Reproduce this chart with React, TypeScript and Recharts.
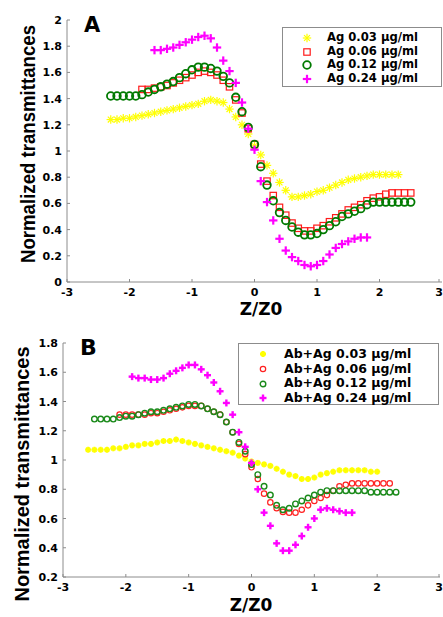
import React from "react";
import { ScatterChart, Scatter, XAxis, YAxis, Legend } from "recharts";

type Pt = [number, number];

// axis ticks
const zTicks = [-3, -2, -1, 0, 1, 2, 3];
const tTicksA = [0, 0.2, 0.4, 0.6, 0.8, 1, 1.2, 1.4, 1.6, 1.8, 2];
const tTicksB = [0.2, 0.4, 0.6, 0.8, 1, 1.2, 1.4, 1.6, 1.8];

const namesA = ["Ag 0.03 μg/ml", "Ag 0.06 μg/ml", "Ag 0.12 μg/ml", "Ag 0.24 μg/ml"];
const namesB = ["Ab+Ag 0.03 μg/ml", "Ab+Ag 0.06 μg/ml", "Ab+Ag 0.12 μg/ml", "Ab+Ag 0.24 μg/ml"];

// panel A: [Z/Z0, normalized transmittance]
const ag003: Pt[] = [
  [-2.3, 1.24], [-2.2, 1.24], [-2.1, 1.25], [-2.0, 1.25], [-1.9, 1.26], [-1.8, 1.27], [-1.7, 1.28],
  [-1.6, 1.29], [-1.5, 1.3], [-1.4, 1.31], [-1.3, 1.32], [-1.2, 1.33], [-1.1, 1.34], [-1.0, 1.35],
  [-0.9, 1.36], [-0.8, 1.38], [-0.7, 1.39], [-0.6, 1.38], [-0.5, 1.37], [-0.4, 1.32], [-0.3, 1.26],
  [-0.2, 1.2], [-0.1, 1.13], [0, 1.04], [0.1, 0.97], [0.2, 0.89], [0.3, 0.83], [0.4, 0.76],
  [0.5, 0.7], [0.6, 0.65], [0.7, 0.65], [0.8, 0.66], [0.9, 0.67], [1.0, 0.69], [1.1, 0.7],
  [1.2, 0.72], [1.3, 0.74], [1.4, 0.76], [1.5, 0.78], [1.6, 0.79], [1.7, 0.8], [1.8, 0.81],
  [1.9, 0.82], [2.0, 0.82], [2.1, 0.82], [2.2, 0.82], [2.3, 0.82],
];
const ag006: Pt[] = [
  [-1.8, 1.47], [-1.7, 1.47], [-1.6, 1.48], [-1.5, 1.49], [-1.4, 1.5], [-1.3, 1.52], [-1.2, 1.54],
  [-1.1, 1.56], [-1.0, 1.58], [-0.9, 1.6], [-0.8, 1.61], [-0.7, 1.6], [-0.6, 1.58], [-0.5, 1.54],
  [-0.4, 1.49], [-0.3, 1.39], [-0.2, 1.29], [-0.1, 1.17], [0, 1.05], [0.1, 0.9], [0.2, 0.77],
  [0.3, 0.66], [0.4, 0.57], [0.5, 0.51], [0.6, 0.45], [0.7, 0.41], [0.8, 0.39], [0.9, 0.39],
  [1.0, 0.41], [1.1, 0.43], [1.2, 0.46], [1.3, 0.49], [1.4, 0.52], [1.5, 0.55], [1.6, 0.57],
  [1.7, 0.59], [1.8, 0.62], [1.9, 0.64], [2.0, 0.65], [2.1, 0.67], [2.2, 0.68], [2.3, 0.68],
  [2.4, 0.68], [2.5, 0.68],
];
const ag012: Pt[] = [
  [-2.3, 1.42], [-2.2, 1.42], [-2.1, 1.42], [-2.0, 1.42], [-1.9, 1.42], [-1.8, 1.43], [-1.7, 1.45],
  [-1.6, 1.47], [-1.5, 1.49], [-1.4, 1.51], [-1.3, 1.53], [-1.2, 1.56], [-1.1, 1.59], [-1.0, 1.62],
  [-0.9, 1.64], [-0.8, 1.64], [-0.7, 1.63], [-0.6, 1.61], [-0.5, 1.57], [-0.4, 1.52], [-0.3, 1.41],
  [-0.2, 1.3], [-0.1, 1.18], [0, 1.05], [0.1, 0.88], [0.2, 0.74], [0.3, 0.62], [0.4, 0.53],
  [0.5, 0.47], [0.6, 0.42], [0.7, 0.38], [0.8, 0.36], [0.9, 0.36], [1.0, 0.37], [1.1, 0.4],
  [1.2, 0.43], [1.3, 0.46], [1.4, 0.5], [1.5, 0.52], [1.6, 0.54], [1.7, 0.56], [1.8, 0.59],
  [1.9, 0.61], [2.0, 0.61], [2.1, 0.61], [2.2, 0.61], [2.3, 0.61], [2.4, 0.61], [2.5, 0.61],
];
const ag024: Pt[] = [
  [-1.6, 1.77], [-1.5, 1.77], [-1.4, 1.78], [-1.3, 1.79], [-1.2, 1.81], [-1.1, 1.83], [-1.0, 1.85],
  [-0.9, 1.87], [-0.8, 1.88], [-0.7, 1.86], [-0.6, 1.79], [-0.5, 1.69], [-0.4, 1.61], [-0.3, 1.52],
  [-0.2, 1.37], [-0.1, 1.17], [0, 1.01], [0.1, 0.77], [0.2, 0.61], [0.3, 0.47], [0.4, 0.33],
  [0.5, 0.24], [0.6, 0.19], [0.7, 0.16], [0.8, 0.13], [0.9, 0.12], [1.0, 0.13], [1.1, 0.16],
  [1.2, 0.21], [1.3, 0.26], [1.4, 0.29], [1.5, 0.31], [1.6, 0.33], [1.7, 0.34], [1.8, 0.34],
];

// panel B
const abag003: Pt[] = [
  [-2.6, 1.07], [-2.5, 1.07], [-2.4, 1.07], [-2.3, 1.07], [-2.2, 1.08], [-2.1, 1.08], [-2.0, 1.09],
  [-1.9, 1.1], [-1.8, 1.1], [-1.7, 1.11], [-1.6, 1.11], [-1.5, 1.12], [-1.4, 1.13], [-1.3, 1.13],
  [-1.2, 1.14], [-1.1, 1.13], [-1.0, 1.12], [-0.9, 1.11], [-0.8, 1.1], [-0.7, 1.09], [-0.6, 1.08],
  [-0.5, 1.07], [-0.4, 1.06], [-0.3, 1.05], [-0.2, 1.03], [-0.1, 1.01], [0, 0.99], [0.1, 0.98],
  [0.2, 0.97], [0.3, 0.96], [0.4, 0.94], [0.5, 0.92], [0.6, 0.9], [0.7, 0.89], [0.8, 0.87],
  [0.9, 0.87], [1.0, 0.88], [1.1, 0.9], [1.2, 0.91], [1.3, 0.92], [1.4, 0.93], [1.5, 0.93],
  [1.6, 0.93], [1.7, 0.93], [1.8, 0.93], [1.9, 0.92], [2.0, 0.92],
];
const abag006: Pt[] = [
  [-2.1, 1.31], [-2.0, 1.31], [-1.9, 1.31], [-1.8, 1.31], [-1.7, 1.31], [-1.6, 1.32], [-1.5, 1.32],
  [-1.4, 1.33], [-1.3, 1.34], [-1.2, 1.35], [-1.1, 1.36], [-1.0, 1.37], [-0.9, 1.37], [-0.8, 1.37],
  [-0.7, 1.35], [-0.6, 1.33], [-0.5, 1.31], [-0.4, 1.26], [-0.3, 1.19], [-0.2, 1.11], [-0.1, 1.04],
  [0, 0.95], [0.1, 0.87], [0.2, 0.77], [0.3, 0.71], [0.4, 0.67], [0.5, 0.645], [0.6, 0.64],
  [0.7, 0.64], [0.8, 0.66], [0.9, 0.69], [1.0, 0.72], [1.1, 0.74], [1.2, 0.76], [1.3, 0.79],
  [1.4, 0.82], [1.5, 0.83], [1.6, 0.84], [1.7, 0.84], [1.8, 0.84], [1.9, 0.84], [2.0, 0.84],
  [2.1, 0.84], [2.2, 0.84],
];
const abag012: Pt[] = [
  [-2.5, 1.28], [-2.4, 1.28], [-2.3, 1.28], [-2.2, 1.28], [-2.1, 1.29], [-2.0, 1.3], [-1.9, 1.3],
  [-1.8, 1.31], [-1.7, 1.32], [-1.6, 1.33], [-1.5, 1.33], [-1.4, 1.34], [-1.3, 1.35], [-1.2, 1.36],
  [-1.1, 1.37], [-1.0, 1.38], [-0.9, 1.38], [-0.8, 1.37], [-0.7, 1.35], [-0.6, 1.33], [-0.5, 1.31],
  [-0.4, 1.26], [-0.3, 1.19], [-0.2, 1.12], [-0.1, 1.06], [0, 0.97], [0.1, 0.9], [0.2, 0.82],
  [0.3, 0.76], [0.4, 0.69], [0.5, 0.66], [0.6, 0.67], [0.7, 0.7], [0.8, 0.72], [0.9, 0.74],
  [1.0, 0.76], [1.1, 0.78], [1.2, 0.79], [1.3, 0.79], [1.4, 0.79], [1.5, 0.79], [1.6, 0.79],
  [1.7, 0.79], [1.8, 0.79], [1.9, 0.78], [2.0, 0.78], [2.1, 0.78], [2.2, 0.78], [2.3, 0.78],
];
const abag024: Pt[] = [
  [-1.9, 1.57], [-1.8, 1.56], [-1.7, 1.56], [-1.6, 1.55], [-1.5, 1.55], [-1.4, 1.56], [-1.3, 1.59],
  [-1.2, 1.61], [-1.1, 1.63], [-1.0, 1.65], [-0.9, 1.65], [-0.8, 1.62], [-0.7, 1.58], [-0.6, 1.53],
  [-0.5, 1.47], [-0.4, 1.39], [-0.3, 1.31], [-0.2, 1.19], [-0.1, 1.09], [0, 0.98], [0.1, 0.8],
  [0.2, 0.64], [0.3, 0.55], [0.4, 0.43], [0.5, 0.38], [0.6, 0.38], [0.7, 0.42], [0.8, 0.48],
  [0.9, 0.54], [1.0, 0.6], [1.1, 0.66], [1.2, 0.67], [1.3, 0.66], [1.4, 0.65], [1.5, 0.64],
  [1.6, 0.64],
];

const FONT = "'DejaVu Sans', sans-serif";
const NARROW = "'Liberation Sans', Arial, sans-serif";
const AXIS = "#8c8c8c";

type Kind = "star" | "square" | "circle" | "plus";

interface Series {
  name: string;
  data: Pt[];
  kind: Kind;
  color: string;
  size: number;
  sw: number;
}

const seriesA: Series[] = [
  { name: namesA[0], data: ag003, kind: "star", color: "#ffff00", size: 4.2, sw: 1.2 },
  { name: namesA[1], data: ag006, kind: "square", color: "#ff1a1a", size: 3.2, sw: 1.2 },
  { name: namesA[2], data: ag012, kind: "circle", color: "#007a00", size: 3.8, sw: 1.8 },
  { name: namesA[3], data: ag024, kind: "plus", color: "#ff00ff", size: 4.2, sw: 2.2 },
];

const seriesB: Series[] = [
  { name: namesB[0], data: abag003, kind: "star", color: "#ffff00", size: 3, sw: 2 },
  { name: namesB[1], data: abag006, kind: "circle", color: "#ff2020", size: 2.7, sw: 1.2 },
  { name: namesB[2], data: abag012, kind: "circle", color: "#1a8a1a", size: 2.8, sw: 1.4 },
  { name: namesB[3], data: abag024, kind: "plus", color: "#ff00ff", size: 3.5, sw: 2.4 },
];

function Marker({ kind, cx, cy, size, color, sw }: { kind: Kind; cx: number; cy: number; size: number; color: string; sw: number }) {
  const s = size;
  if (kind === "square") {
    return <rect x={cx - s} y={cy - s} width={2 * s} height={2 * s} fill="none" stroke={color} strokeWidth={sw} />;
  }
  if (kind === "circle") {
    return <circle cx={cx} cy={cy} r={s} fill="none" stroke={color} strokeWidth={sw} />;
  }
  if (kind === "plus") {
    return (
      <g stroke={color} strokeWidth={sw}>
        <line x1={cx - s} x2={cx + s} y1={cy} y2={cy} />
        <line x1={cx} x2={cx} y1={cy - s} y2={cy + s} />
      </g>
    );
  }
  const d = s * 0.7;
  return (
    <g stroke={color} strokeWidth={sw}>
      <line x1={cx - s} x2={cx + s} y1={cy} y2={cy} />
      <line x1={cx} x2={cx} y1={cy - s} y2={cy + s} />
      <line x1={cx - d} x2={cx + d} y1={cy - d} y2={cy + d} />
      <line x1={cx - d} x2={cx + d} y1={cy + d} y2={cy - d} />
    </g>
  );
}

function XTick({ x, y, payload }: any) {
  return (
    <g>
      <line x1={x} x2={x} y1={y - 4} y2={y - 7} stroke={AXIS} />
      <text x={x} y={y} dy={10} textAnchor="middle" fontFamily={FONT} fontWeight="bold" fontSize={11} fill="#000">
        {payload.value}
      </text>
    </g>
  );
}

function YTick({ x, y, payload }: any) {
  return (
    <g>
      <line x1={x + 5} x2={x + 8} y1={y} y2={y} stroke={AXIS} />
      <text x={x} y={y} dy={4} textAnchor="end" fontFamily={FONT} fontWeight="bold" fontSize={11} fill="#000">
        {payload.value}
      </text>
    </g>
  );
}

interface LegendLayout {
  width: number;
  height: number;
  padTop: number;
  rowH: number;
  markX: number;
  textX: number;
  fontSize: number;
}

function LegendBox({ series, lay }: { series: Series[]; lay: LegendLayout }) {
  return (
    <div
      style={{
        boxSizing: "border-box",
        width: lay.width,
        height: lay.height,
        border: "1px solid #8c8c8c",
        background: "#fff",
        paddingTop: lay.padTop,
        position: "relative",
      }}
    >
      {series.map((s) => (
        <div key={s.name} style={{ height: lay.rowH, position: "relative" }}>
          <svg width={16} height={16} style={{ position: "absolute", left: lay.markX - 9, top: lay.rowH / 2 - 8 }}>
            <Marker kind={s.kind} cx={8} cy={8} size={s.size} color={s.color} sw={s.sw} />
          </svg>
          <span
            style={{
              position: "absolute",
              left: lay.textX - 1,
              top: 0,
              lineHeight: `${lay.rowH}px`,
              fontFamily: FONT,
              fontWeight: "bold",
              fontSize: lay.fontSize,
              color: "#000",
              whiteSpace: "nowrap",
            }}
          >
            {s.name}
          </span>
        </div>
      ))}
    </div>
  );
}

interface PanelProps {
  series: Series[];
  top: number;
  height: number;
  marginTop: number;
  marginRight: number;
  yWidth: number;
  xHeight: number;
  yDomain: [number, number];
  yTicks: number[];
  letter: string;
  letterX: number;
  letterY: number;
  letterSize: number;
  yLabelX: number;
  yLabelY: number;
  yLabelLen: number;
  xLabelX: number;
  xLabelY: number;
  xLabelSize: number;
  legendLeft: number;
  legendTop: number;
  legendLay: LegendLayout;
}

function Panel(p: PanelProps) {
  return (
    <div style={{ position: "absolute", left: 0, top: p.top, width: 443, height: p.height }}>
      <ScatterChart
        width={443}
        height={p.height}
        margin={{ top: p.marginTop, right: p.marginRight, bottom: 0, left: 0 }}
      >
        <XAxis
          type="number"
          dataKey="z"
          domain={[-3, 3]}
          ticks={zTicks}
          allowDataOverflow
          stroke={AXIS}
          tickSize={0}
          tickMargin={4}
          tickLine={false}
          height={p.xHeight}
          tick={<XTick />}
          label={{
            content: () => (
              <text x={p.xLabelX} y={p.xLabelY} textAnchor="middle" fontFamily={FONT} fontWeight="bold" fontSize={p.xLabelSize} fill="#000">
                Z/Z0
              </text>
            ),
          }}
        />
        <YAxis
          type="number"
          dataKey="t"
          domain={p.yDomain}
          ticks={p.yTicks}
          allowDataOverflow
          stroke={AXIS}
          tickSize={0}
          tickMargin={5}
          tickLine={false}
          width={p.yWidth}
          tick={<YTick />}
          label={{
            content: () => (
              <g>
                <text
                  transform={`translate(${p.yLabelX},${p.yLabelY}) rotate(-90)`}
                  textAnchor="middle"
                  dominantBaseline="central"
                  fontFamily={NARROW}
                  fontWeight="bold"
                  fontSize={20}
                  textLength={p.yLabelLen}
                  lengthAdjust="spacingAndGlyphs"
                  fill="#000"
                >
                  Normalized transmittances
                </text>
                <text x={p.letterX} y={p.letterY} fontFamily={FONT} fontWeight="bold" fontSize={p.letterSize} fill="#000">
                  {p.letter}
                </text>
              </g>
            ),
          }}
        />
        <Legend
          layout="vertical"
          align="center"
          verticalAlign="middle"
          wrapperStyle={{ left: p.legendLeft, top: p.legendTop, width: p.legendLay.width, height: p.legendLay.height }}
          content={() => <LegendBox series={p.series} lay={p.legendLay} />}
        />
        {p.series.map((s) => (
          <Scatter
            key={s.name}
            name={s.name}
            data={s.data.map(([z, t]) => ({ z, t }))}
            fill={s.color}
            isAnimationActive={false}
            shape={(sp: any) => <Marker kind={s.kind} cx={sp.cx} cy={sp.cy} size={s.size} color={s.color} sw={s.sw} />}
          />
        ))}
      </ScatterChart>
    </div>
  );
}

export default function App() {
  return (
    <div style={{ position: "absolute", left: 0, top: 0, width: 443, height: 617, background: "#fff", overflow: "hidden" }}>
      <Panel
        series={seriesA}
        top={0}
        height={318}
        marginTop={20}
        marginRight={1}
        yWidth={67}
        xHeight={36}
        yDomain={[0, 2]}
        yTicks={tTicksA}
        letter="A"
        letterX={84}
        letterY={32}
        letterSize={21}
        yLabelX={28}
        yLabelY={144}
        yLabelLen={238}
        xLabelX={261}
        xLabelY={315}
        xLabelSize={17}
        legendLeft={282}
        legendTop={27}
        legendLay={{ width: 160, height: 60, padTop: 3, rowH: 13.7, markX: 25, textX: 45, fontSize: 11.6 }}
      />
      <Panel
        series={seriesB}
        top={318}
        height={299}
        marginTop={25}
        marginRight={3}
        yWidth={63}
        xHeight={40}
        yDomain={[0.2, 1.8]}
        yTicks={tTicksB}
        letter="B"
        letterX={80}
        letterY={37}
        letterSize={22}
        yLabelX={22}
        yLabelY={156}
        yLabelLen={255}
        xLabelX={251}
        xLabelY={293}
        xLabelSize={17}
        legendLeft={238}
        legendTop={25}
        legendLay={{ width: 201, height: 62, padTop: 3, rowH: 14.6, markX: 25, textX: 46, fontSize: 12.5 }}
      />
    </div>
  );
}
